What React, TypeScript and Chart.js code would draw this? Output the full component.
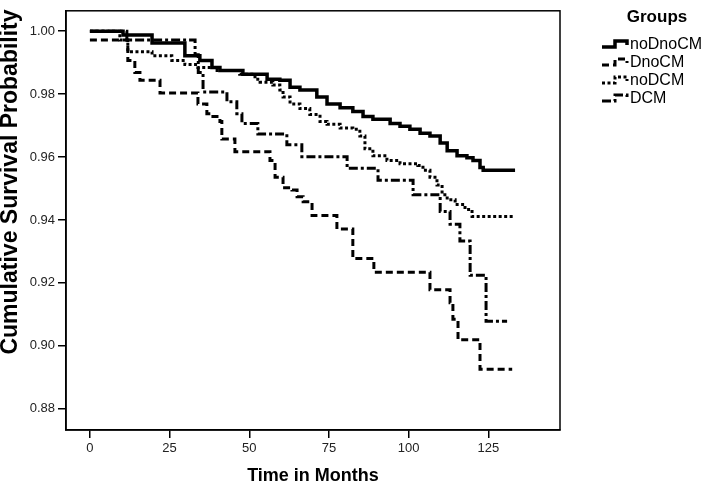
import React, { useEffect, useRef } from "react";
import { Chart, registerables } from "chart.js";

Chart.register(...registerables);

const groups = ["noDnoCM", "DnoCM", "noDCM", "DCM"];

const noDnoCMTime = [0, 10.4, 19.5, 29.8, 34.5, 38.3, 40.8, 48, 55.6, 59.6, 62.8, 65.9, 71.2, 74.4, 78.5, 82.5, 85.7, 88.8, 94.2, 97.3, 100.4, 103.6, 106.7, 109.9, 112.1, 115.2, 118.3, 120.2, 122.4, 123.4, 133.4];
const noDnoCMSurv = [1.0, 0.9988, 0.9963, 0.9922, 0.9907, 0.9885, 0.9875, 0.9863, 0.9847, 0.9844, 0.9822, 0.9813, 0.9791, 0.9769, 0.9757, 0.9745, 0.9729, 0.972, 0.9707, 0.9698, 0.9688, 0.9676, 0.9667, 0.9645, 0.962, 0.9604, 0.9598, 0.9589, 0.9567, 0.9558, 0.9558];

const DnoCMTime = [0, 11.9, 14.1, 15.7, 22.0, 33.9, 36.7, 38.6, 40.8, 41.4, 45.5, 56.5, 58.1, 60.6, 63.4, 65.0, 66.9, 69.7, 77.5, 82.5, 89.1, 106.7, 113.0, 113.9, 115.5, 122.4, 132.5];
const DnoCMSurv = [0.9972, 0.9907, 0.9869, 0.9844, 0.9804, 0.9769, 0.9738, 0.9729, 0.9713, 0.9657, 0.9617, 0.9589, 0.9536, 0.9502, 0.9495, 0.9474, 0.9458, 0.9414, 0.9371, 0.9277, 0.9234, 0.9178, 0.9137, 0.9084, 0.9019, 0.8925, 0.8925];

const noDCMTime = [0, 9.4, 11.9, 19.5, 25.7, 29.8, 33.9, 39.2, 47, 51.8, 53.4, 57.4, 59.6, 60.6, 62.8, 65.9, 69, 72.2, 74.4, 78.5, 82.5, 84.7, 86.3, 88.8, 93.2, 97.3, 102.9, 104.5, 106.7, 108.9, 110.5, 112.1, 114.6, 117.7, 119.9, 133.4];
const noDCMSurv = [1.0, 0.9972, 0.9935, 0.9922, 0.9907, 0.9894, 0.9885, 0.9875, 0.9863, 0.9847, 0.9838, 0.9829, 0.9813, 0.9791, 0.9769, 0.9754, 0.9735, 0.9713, 0.9704, 0.9692, 0.9688, 0.9667, 0.9626, 0.9604, 0.9589, 0.9579, 0.9573, 0.9558, 0.9536, 0.9511, 0.948, 0.9464, 0.9449, 0.9433, 0.9411, 0.9411];

const DCMTime = [0, 11.6, 33.0, 34.0, 35.5, 43.0, 46.1, 47.7, 52.7, 61.8, 66.5, 80.7, 90.4, 101.4, 109.9, 113.0, 116.1, 119.3, 124.3, 130.9];
const DCMSurv = [1.0, 0.9972, 0.9925, 0.9869, 0.9807, 0.9776, 0.9738, 0.9707, 0.9673, 0.9639, 0.9601, 0.9564, 0.9526, 0.948, 0.9427, 0.9386, 0.9333, 0.9224, 0.9078, 0.9078];

const xTicks = [0, 25, 50, 75, 100, 125];
const yTicks = [0.88, 0.9, 0.92, 0.94, 0.96, 0.98, 1.0];

const FAM = "'Liberation Sans', Arial, Helvetica, sans-serif";

const styles = [
  { width: 3.5, dash: [] as number[] },
  { width: 3, dash: [7, 4] },
  { width: 3, dash: [3, 2.5] },
  { width: 3, dash: [9, 3, 3, 3] },
];

function pts(t: number[], s: number[]) {
  return t.map((x, i) => ({ x, y: s[i] }));
}

const decorPlugin = {
  id: "decor",
  afterDraw(chart: any) {
    const { ctx, chartArea } = chart;
    const { left, right, top, bottom } = chartArea;
    ctx.save();
    ctx.strokeStyle = "#000";
    ctx.lineWidth = 1.5;
    ctx.setLineDash([]);
    ctx.strokeRect(left, top, right - left, bottom - top);

    ctx.fillStyle = "#000";
    ctx.save();
    ctx.font = `bold 23px ${FAM}`;
    ctx.textAlign = "center";
    ctx.textBaseline = "middle";
    ctx.translate(11, 182);
    ctx.rotate(-Math.PI / 2);
    ctx.fillText("Cumulative Survival Probability", 0, 0);
    ctx.restore();

    ctx.font = `bold 18px ${FAM}`;
    ctx.textAlign = "center";
    ctx.textBaseline = "alphabetic";
    ctx.fillText("Time in Months", (left + right) / 2, 481);

    ctx.font = `bold 17px ${FAM}`;
    ctx.textAlign = "center";
    ctx.textBaseline = "middle";
    ctx.fillText("Groups", 657, 17);

    const ys = [44, 62, 80, 98];
    chart.data.datasets.forEach((ds: any, i: number) => {
      const y = ys[i];
      ctx.save();
      ctx.strokeStyle = "#000";
      ctx.lineWidth = ds.borderWidth;
      ctx.setLineDash(ds.borderDash || []);
      ctx.beginPath();
      ctx.moveTo(602, y + 3);
      ctx.lineTo(615, y + 3);
      ctx.lineTo(615, y - 3);
      ctx.lineTo(627, y - 3);
      ctx.lineTo(627, y + 1);
      ctx.stroke();
      ctx.restore();
      ctx.font = `16px ${FAM}`;
      ctx.textAlign = "left";
      ctx.textBaseline = "middle";
      ctx.fillText(ds.label, 630, y + 1);
    });
    ctx.restore();
  },
};

export default function App() {
  const ref = useRef<HTMLCanvasElement | null>(null);
  useEffect(() => {
    document.body.style.margin = "0";
    const series = [
      pts(noDnoCMTime, noDnoCMSurv),
      pts(DnoCMTime, DnoCMSurv),
      pts(noDCMTime, noDCMSurv),
      pts(DCMTime, DCMSurv),
    ];
    const chart = new Chart(ref.current as HTMLCanvasElement, {
      type: "line",
      data: {
        datasets: groups.map((g, i) => ({
          label: g,
          data: series[i],
          borderColor: "#000",
          backgroundColor: "#000",
          borderWidth: styles[i].width,
          borderDash: styles[i].dash,
          stepped: "before" as const,
          pointRadius: 0,
          fill: false,
        })),
      },
      options: {
        responsive: false,
        animation: false,
        layout: { padding: { top: 2, right: 149, left: 0, bottom: 0 } },
        plugins: { legend: { display: false }, tooltip: { enabled: false } },
        scales: {
          x: {
            type: "linear",
            min: -7.5,
            max: 147.5,
            afterBuildTicks: (s: any) => {
              s.ticks = xTicks.map((v) => ({ value: v }));
            },
            afterFit: (s: any) => {
              s.height = 53;
            },
            grid: { drawOnChartArea: false, drawTicks: true, tickLength: 8, color: "#000", lineWidth: 1.5 },
            border: { display: true, color: "#000", width: 1.5 },
            ticks: {
              color: "#222",
              font: { family: FAM, size: 13 },
              padding: 3,
              maxRotation: 0,
              callback: (v: any) => String(v),
            },
          },
          y: {
            type: "linear",
            min: 0.8732,
            max: 1.0065,
            afterBuildTicks: (s: any) => {
              s.ticks = yTicks.map((v) => ({ value: v }));
            },
            afterFit: (s: any) => {
              s.width = 66;
            },
            grid: { drawOnChartArea: false, drawTicks: true, tickLength: 8, color: "#000", lineWidth: 1.5 },
            border: { display: true, color: "#000", width: 1.5 },
            ticks: {
              color: "#222",
              font: { family: FAM, size: 13 },
              padding: 3,
              callback: (v: any) => Number(v).toFixed(2),
            },
          },
        },
      },
      plugins: [decorPlugin],
    });
    return () => chart.destroy();
  }, []);
  return (
    <div style={{ position: "absolute", left: 0, top: 0, width: 709, height: 483, background: "#fff" }}>
      <canvas ref={ref} width={709} height={483} style={{ width: 709, height: 483 }} />
    </div>
  );
}
